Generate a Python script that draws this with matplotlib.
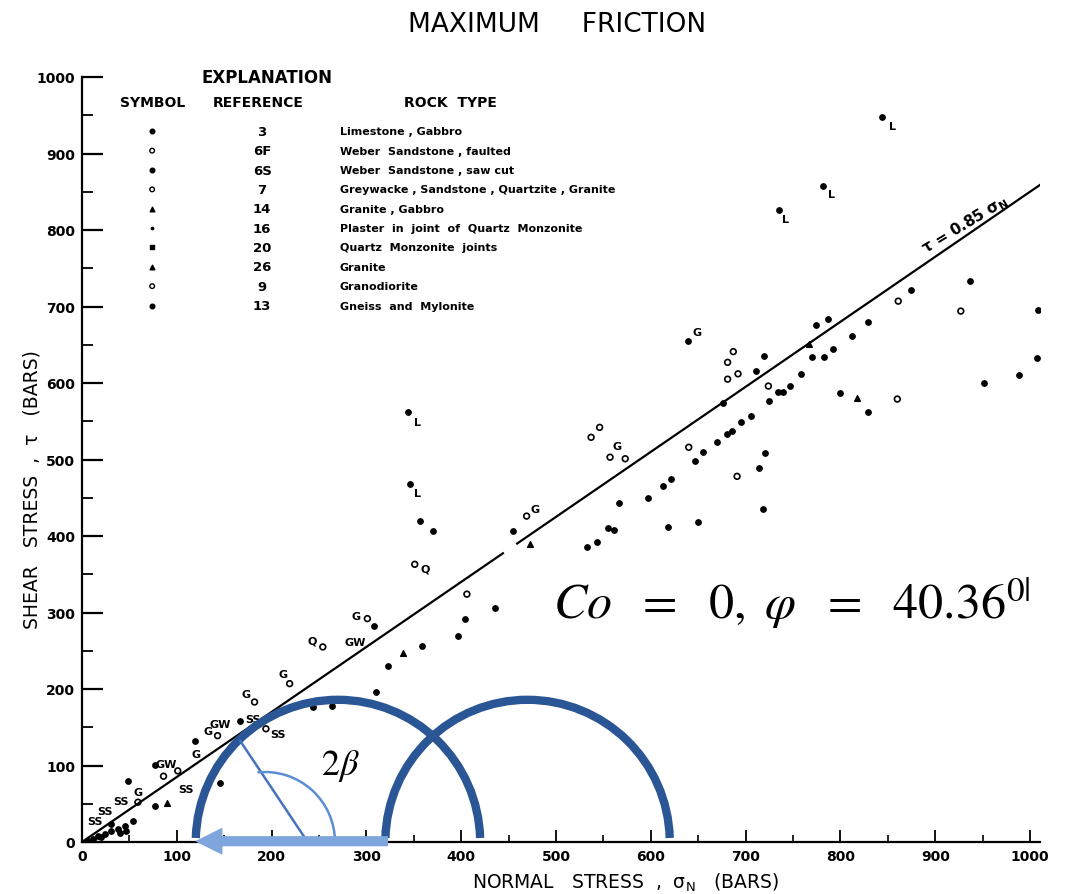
import numpy as np
import matplotlib.pyplot as plt
from matplotlib.patches import Arc

# values (bars)
dot_sigma = [6, 12, 17, 24, 31, 38, 45, 54, 46, 31, 20, 40,
             49, 77, 77, 119, 146, 167, 244, 264,
             310, 323, 359, 397, 404, 436, 308,
             357, 370, 455, 346, 344,
             533, 543, 555, 561, 566, 597, 613, 621, 618, 650,
             647, 655, 670, 680, 686, 695, 706, 714, 720, 718,
             639, 676, 711, 719, 725, 734, 739, 747, 758,
             770, 783, 792, 774, 787, 812, 829, 874, 937,
             1008, 1007, 988, 951, 800, 829,
             844, 782, 735]
dot_tau = [1, 4, 8, 10, 14, 17, 21, 27, 14, 24, 6, 12,
           80, 101, 47, 132, 77, 158, 176, 178,
           196, 230, 256, 269, 292, 306, 282,
           420, 407, 407, 468, 562,
           386, 392, 410, 408, 443, 450, 465, 474, 412, 418,
           498, 510, 523, 533, 537, 549, 557, 489, 508, 435,
           655, 574, 616, 635, 576, 588, 588, 596, 612,
           634, 634, 644, 676, 684, 661, 680, 721, 733,
           695, 633, 610, 600, 587, 562,
           948, 858, 826]

circ_sigma = [59, 86, 101, 143, 194, 219, 182, 254, 301, 351, 469, 406, 537, 546,
              557, 573, 640, 681, 687, 681, 692, 724, 691, 860, 861, 927]
circ_tau = [52, 86, 93, 139, 148, 207, 183, 255, 292, 363, 426, 324, 529, 542,
            503, 501, 516, 627, 641, 605, 612, 596, 478, 579, 707, 694]

tri_sigma = [90, 339, 818, 767, 473]
tri_tau = [51, 247, 580, 651, 390]

lab_text = ['L', 'L', 'L', 'L', 'L',
            'G', 'G', 'G', 'G', 'G', 'G', 'G', 'G', 'G',
            'Q', 'Q', 'GW', 'GW', 'GW',
            'SS', 'SS', 'SS', 'SS', 'SS', 'SS']
lab_sigma = [855, 791, 742, 354, 354,
             649, 478, 289, 212, 173, 133, 120, 59, 564,
             362, 243, 288, 146, 89,
             180, 207, 110, 41, 24, 14]
lab_tau = [936, 847, 814, 549, 456,
           667, 435, 295, 220, 193, 145, 115, 65, 518,
           357, 263, 261, 154, 102,
           161, 141, 69, 54, 41, 27]

friction = 0.85
line_pieces = [(0, 444), (459, 1025)]

# Mohr circles (sigma3, sigma1)
mohr = [(120, 420), (320, 620)]
arrow_from, arrow_to = 322, 121
radius_start = (238, 0)
radius_end = (167, 132)
beta_centre = 193

legend_refs = ['3', '6F', '6S', '7', '14', '16', '20', '26', '9', '13']
legend_rocks = ['Limestone , Gabbro',
                'Weber  Sandstone , faulted',
                'Weber  Sandstone , saw cut',
                'Greywacke , Sandstone , Quartzite , Granite',
                'Granite , Gabbro',
                'Plaster  in  joint  of  Quartz  Monzonite',
                'Quartz  Monzonite  joints',
                'Granite',
                'Granodiorite',
                'Gneiss  and  Mylonite']
legend_marks = ['o', 'o', 'o', 'o', '^', '.', 's', '^', 'o', 'o']
legend_fill = [True, False, True, False, True, True, True, True, False, True]

W, H = 1076, 895
fig = plt.figure(figsize=(W / 100, H / 100), dpi=100)
ax = fig.add_axes([82 / W, 52 / H, 957.5 / W, 765 / H])
ax.set_xlim(0, 1010)
ax.set_ylim(0, 1000)

for s in ['top', 'right']:
    ax.spines[s].set_visible(False)
for s in ['left', 'bottom']:
    ax.spines[s].set_linewidth(1.6)

ax.set_xticks(range(0, 1001, 100))
ax.set_xticks(range(50, 1000, 100), minor=True)
ax.set_yticks(range(0, 1001, 100))
ax.set_yticks(range(50, 1000, 100), minor=True)
ax.tick_params(axis='x', which='major', direction='in', length=9, width=1.3, pad=5, labelsize=10)
ax.tick_params(axis='x', which='minor', direction='in', length=5, width=1.2)
ax.tick_params(axis='y', which='major', direction='in', length=15, width=1.6, pad=5, labelsize=10)
ax.tick_params(axis='y', which='minor', direction='in', length=8, width=1.3)
for lbl in ax.get_xticklabels() + ax.get_yticklabels():
    lbl.set_fontweight('bold')

# data
ax.scatter(dot_sigma, dot_tau, s=15, color='black', zorder=3)
ax.scatter(circ_sigma, circ_tau, s=17, facecolor='none', edgecolor='black', linewidth=1.2, zorder=3)
ax.scatter(tri_sigma, tri_tau, s=17, marker='^', color='black', zorder=3)
for t, x, y in zip(lab_text, lab_sigma, lab_tau):
    ax.text(x, y, t, fontsize=8, fontweight='bold', ha='center', va='center', zorder=3)

for a, b in line_pieces:
    xs = np.array([a, b])
    ax.plot(xs, friction * xs, color='black', lw=1.6, zorder=2)
ax.text(931, 808, 'τ = 0.85 σ$_\\mathregular{N}$', rotation=31, fontsize=11,
        fontweight='bold', ha='center', va='center')

# legend block
ax.text(195, 1000, 'EXPLANATION', fontsize=12, fontweight='bold', ha='center', va='center')
ax.text(75, 967, 'SYMBOL', fontsize=10, fontweight='bold', ha='center', va='center')
ax.text(186, 967, 'REFERENCE', fontsize=10, fontweight='bold', ha='center', va='center')
ax.text(389, 967, 'ROCK  TYPE', fontsize=10, fontweight='bold', ha='center', va='center')
row_tau = 929
for r, rock, m, f in zip(legend_refs, legend_rocks, legend_marks, legend_fill):
    ax.scatter([74], [row_tau], s=11, marker=m,
               facecolor='black' if f else 'none', edgecolor='black', linewidth=1)
    ax.text(190, row_tau, r, fontsize=9.5, fontweight='bold', ha='center', va='center')
    ax.text(272, row_tau, rock, fontsize=8, fontweight='bold', ha='left', va='center')
    row_tau -= 25.3

# Mohr circles drawn round on screen
pos = ax.get_position()
px_x = pos.width * W / 1010
px_y = pos.height * H / 1000
k = px_x / px_y
for s3, s1 in mohr:
    c = (s3 + s1) / 2
    r = (s1 - s3) / 2
    ax.add_patch(Arc((c, 0), 2 * r, 2 * r * k, theta1=2, theta2=178,
                     color='#2b5695', lw=6, zorder=4))

ax.plot([radius_start[0], radius_end[0]], [radius_start[1], radius_end[1]],
        color='#4673bf', lw=1.8, zorder=4)
rb = 70 / px_x
ax.add_patch(Arc((beta_centre, 0), 2 * rb, 2 * rb * k, theta1=0, theta2=95,
                 color='#5b8ed3', lw=1.8, zorder=4))

ax.annotate('', xy=(arrow_to, 1), xytext=(arrow_from, 1),
            arrowprops=dict(arrowstyle='simple,head_length=1.0,head_width=1.0,tail_width=0.35',
                            color='#7ea6dc', mutation_scale=18, shrinkA=0, shrinkB=0),
            zorder=5)

fig.text(340 / W, 1 - 766 / H, r'$2\beta$', math_fontfamily='stix', fontsize=26,
         ha='center', va='center')
fig.text(553 / W, 1 - 603 / H, r'$Co\ \ =\ \ 0,\ \varphi\ \ =\ \ 40.36^{0|}$',
         math_fontfamily='stix', fontsize=36, ha='left', va='center')

fig.text(557 / W, 1 - 25 / H, 'MAXIMUM     FRICTION', fontsize=19, ha='center', va='center')
fig.text(625 / W, 1 - 883 / H, 'NORMAL   STRESS  ,  σ$_\\mathregular{N}$   (BARS)', fontsize=13.5,
         ha='center', va='center')
fig.text(32 / W, 1 - 490 / H, 'SHEAR   STRESS  ,  τ   (BARS)', fontsize=13.5, rotation=90,
         ha='center', va='center')

fig.savefig('out.png', dpi=100)
